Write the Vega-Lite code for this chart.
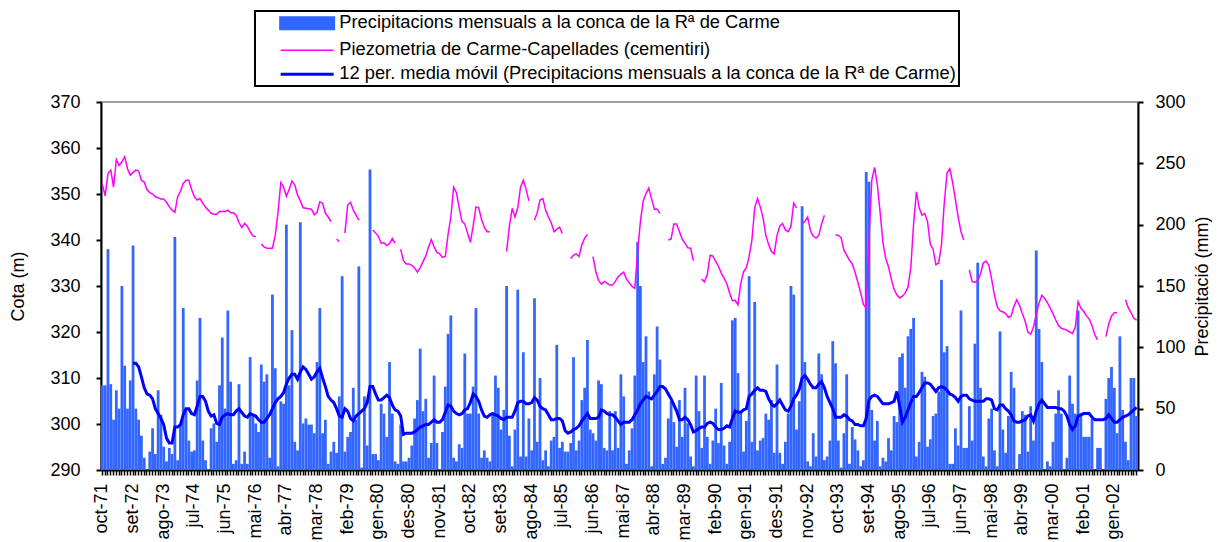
{
"$schema":"https://vega.github.io/schema/vega-lite/v6.json",
"width":1037,"height":368,
"autosize":{"type":"none"},
"padding":{"left":101,"top":102,"right":85,"bottom":72},
"background":"white",
"config":{
 "font":"Liberation Sans",
 "view":{"stroke":"#808080","strokeWidth":1.5},
 "axis":{"labelColor":"black","titleColor":"black","domainColor":"black","tickColor":"black","grid":false,"titleFontWeight":"normal","labelFont":"Liberation Sans","titleFont":"Liberation Sans","labelFontSize":18,"titleFontSize":18,"domainWidth":2}
},
"data":{"values":[
{"m":"oct-71","p":69,"a":null,"z":352.0},{"m":"nov-71","p":69,"a":null,"z":349.6},{"m":"des-71","p":180,"a":null,"z":354.5},
{"m":"gen-72","p":70,"a":null,"z":355.2},{"m":"feb-72","p":41,"a":null,"z":351.5},{"m":"mar-72","p":65,"a":null,"z":357.5},{"m":"abr-72","p":50,"a":null,"z":356.2},{"m":"mai-72","p":150,"a":null,"z":357.0},{"m":"jun-72","p":85,"a":null,"z":358.1},{"m":"jul-72","p":50,"a":null,"z":355.5},{"m":"ago-72","p":73,"a":null,"z":354.1},{"m":"set-72","p":183,"a":87,"z":354.7},{"m":"oct-72","p":50,"a":87,"z":355.2},{"m":"nov-72","p":41,"a":84,"z":355.0},{"m":"des-72","p":28,"a":76,"z":353.0},
{"m":"gen-73","p":10,"a":67,"z":352.6},{"m":"feb-73","p":0,"a":62,"z":350.9},{"m":"mar-73","p":15,"a":61,"z":350.3},{"m":"abr-73","p":34,"a":58,"z":350.0},{"m":"mai-73","p":13,"a":50,"z":349.4},{"m":"jun-73","p":65,"a":46,"z":349.2},{"m":"jul-73","p":45,"a":42,"z":348.9},{"m":"ago-73","p":19,"a":37,"z":348.9},{"m":"set-73","p":7,"a":26,"z":348.2},{"m":"oct-73","p":18,"a":22,"z":347.2},{"m":"nov-73","p":13,"a":22,"z":346.5},{"m":"des-73","p":190,"a":35,"z":346.0},
{"m":"gen-74","p":8,"a":35,"z":349.4},{"m":"feb-74","p":37,"a":37,"z":350.6},{"m":"mar-74","p":132,"a":45,"z":352.3},{"m":"abr-74","p":49,"a":50,"z":353.0},{"m":"mai-74","p":24,"a":50,"z":353.0},{"m":"jun-74","p":15,"a":46,"z":351.0},{"m":"jul-74","p":16,"a":45,"z":349.4},{"m":"ago-74","p":73,"a":52,"z":348.7},{"m":"set-74","p":124,"a":60,"z":349.0},{"m":"oct-74","p":24,"a":60,"z":348.0},{"m":"nov-74","p":8,"a":56,"z":347.1},{"m":"des-74","p":0,"a":48,"z":346.5},
{"m":"gen-75","p":34,"a":44,"z":345.8},{"m":"feb-75","p":38,"a":45,"z":345.6},{"m":"mar-75","p":23,"a":38,"z":345.6},{"m":"abr-75","p":69,"a":37,"z":346.2},{"m":"mai-75","p":108,"a":43,"z":346.2},{"m":"jun-75","p":50,"a":45,"z":346.2},{"m":"jul-75","p":130,"a":46,"z":346.5},{"m":"ago-75","p":72,"a":45,"z":345.9},{"m":"set-75","p":5,"a":45,"z":345.9},{"m":"oct-75","p":8,"a":48,"z":345.4},{"m":"nov-75","p":70,"a":50,"z":343.8},{"m":"des-75","p":5,"a":47,"z":342.7},
{"m":"gen-76","p":15,"a":44,"z":343.6},{"m":"feb-76","p":5,"a":43,"z":343.0},{"m":"mar-76","p":92,"a":46,"z":341.8},{"m":"abr-76","p":44,"a":45,"z":340.9},{"m":"mai-76","p":38,"a":44,"z":340.7},{"m":"jun-76","p":31,"a":41,"z":null},{"m":"jul-76","p":86,"a":39,"z":339.1},{"m":"ago-76","p":72,"a":39,"z":338.5},{"m":"set-76","p":78,"a":42,"z":338.2},{"m":"oct-76","p":10,"a":45,"z":338.2},{"m":"nov-76","p":143,"a":50,"z":338.2},{"m":"des-76","p":83,"a":55,"z":341.0},
{"m":"gen-77","p":3,"a":58,"z":346.0},{"m":"feb-77","p":56,"a":60,"z":352.5},{"m":"mar-77","p":54,"a":63,"z":351.5},{"m":"abr-77","p":200,"a":70,"z":349.5},{"m":"mai-77","p":69,"a":75,"z":351.0},{"m":"jun-77","p":114,"a":78,"z":352.8},{"m":"jul-77","p":23,"a":78,"z":352.0},{"m":"ago-77","p":16,"a":74,"z":349.8},{"m":"set-77","p":202,"a":80,"z":348.5},{"m":"oct-77","p":38,"a":84,"z":347.0},{"m":"nov-77","p":42,"a":82,"z":346.9},{"m":"des-77","p":37,"a":78,"z":346.8},
{"m":"gen-78","p":37,"a":74,"z":346.7},{"m":"feb-78","p":30,"a":76,"z":345.5},{"m":"mar-78","p":88,"a":80,"z":346.0},{"m":"abr-78","p":132,"a":83,"z":348.3},{"m":"mai-78","p":30,"a":75,"z":348.0},{"m":"jun-78","p":41,"a":68,"z":345.8},{"m":"jul-78","p":5,"a":60,"z":345.0},{"m":"ago-78","p":15,"a":57,"z":344.0},{"m":"set-78","p":23,"a":55,"z":null},{"m":"oct-78","p":14,"a":50,"z":340.2},{"m":"nov-78","p":60,"a":44,"z":339.6},{"m":"des-78","p":158,"a":43,"z":null},
{"m":"gen-79","p":15,"a":50,"z":341.5},{"m":"feb-79","p":27,"a":48,"z":347.6},{"m":"mar-79","p":31,"a":42,"z":348.2},{"m":"abr-79","p":67,"a":40,"z":346.5},{"m":"mai-79","p":41,"a":44,"z":345.4},{"m":"jun-79","p":166,"a":46,"z":344.3},{"m":"jul-79","p":2,"a":48,"z":null},{"m":"ago-79","p":60,"a":50,"z":null},{"m":"set-79","p":20,"a":55,"z":null},{"m":"oct-79","p":245,"a":68,"z":null},{"m":"nov-79","p":13,"a":68,"z":342.2},{"m":"des-79","p":13,"a":62,"z":341.5},
{"m":"gen-80","p":8,"a":57,"z":340.8},{"m":"feb-80","p":54,"a":57,"z":339.3},{"m":"mar-80","p":46,"a":59,"z":339.4},{"m":"abr-80","p":27,"a":61,"z":338.8},{"m":"mai-80","p":88,"a":59,"z":339.2},{"m":"jun-80","p":46,"a":53,"z":340.3},{"m":"jul-80","p":7,"a":49,"z":339.3},{"m":"ago-80","p":5,"a":48,"z":null},{"m":"set-80","p":37,"a":44,"z":338.0},{"m":"oct-80","p":7,"a":29,"z":335.5},{"m":"nov-80","p":7,"a":30,"z":334.8},{"m":"des-80","p":10,"a":30,"z":334.8},
{"m":"gen-81","p":20,"a":30,"z":334.5},{"m":"feb-81","p":42,"a":31,"z":333.9},{"m":"mar-81","p":57,"a":33,"z":333.0},{"m":"abr-81","p":99,"a":35,"z":334.0},{"m":"mai-81","p":48,"a":36,"z":335.3},{"m":"jun-81","p":58,"a":37,"z":336.5},{"m":"jul-81","p":10,"a":37,"z":338.5},{"m":"ago-81","p":22,"a":39,"z":340.1},{"m":"set-81","p":77,"a":41,"z":338.5},{"m":"oct-81","p":22,"a":39,"z":337.3},{"m":"nov-81","p":0,"a":39,"z":337.0},{"m":"des-81","p":31,"a":41,"z":336.2},
{"m":"gen-82","p":68,"a":47,"z":336.4},{"m":"feb-82","p":111,"a":53,"z":341.2},{"m":"mar-82","p":126,"a":52,"z":345.0},{"m":"abr-82","p":10,"a":48,"z":351.5},{"m":"mai-82","p":7,"a":46,"z":350.3},{"m":"jun-82","p":21,"a":45,"z":347.0},{"m":"jul-82","p":18,"a":46,"z":344.0},{"m":"ago-82","p":95,"a":49,"z":343.5},{"m":"set-82","p":46,"a":50,"z":341.5},{"m":"oct-82","p":46,"a":55,"z":339.5},{"m":"nov-82","p":68,"a":62,"z":343.0},{"m":"des-82","p":132,"a":60,"z":347.2},
{"m":"gen-83","p":46,"a":56,"z":347.0},{"m":"feb-83","p":10,"a":49,"z":344.5},{"m":"mar-83","p":16,"a":44,"z":342.8},{"m":"abr-83","p":10,"a":43,"z":341.8},{"m":"mai-83","p":7,"a":45,"z":341.8},{"m":"jun-83","p":47,"a":46,"z":null},{"m":"jul-83","p":77,"a":45,"z":null},{"m":"ago-83","p":67,"a":44,"z":null},{"m":"set-83","p":33,"a":42,"z":null},{"m":"oct-83","p":49,"a":41,"z":null},{"m":"nov-83","p":150,"a":43,"z":337.5},{"m":"des-83","p":28,"a":43,"z":343.0},
{"m":"gen-84","p":3,"a":43,"z":346.9},{"m":"feb-84","p":33,"a":48,"z":345.0},{"m":"mar-84","p":147,"a":55,"z":347.0},{"m":"abr-84","p":11,"a":56,"z":351.5},{"m":"mai-84","p":96,"a":56,"z":353.0},{"m":"jun-84","p":11,"a":54,"z":351.0},{"m":"jul-84","p":42,"a":54,"z":348.5},{"m":"ago-84","p":16,"a":55,"z":null},{"m":"set-84","p":140,"a":59,"z":344.3},{"m":"oct-84","p":23,"a":57,"z":346.0},{"m":"nov-84","p":75,"a":52,"z":348.7},{"m":"des-84","p":8,"a":50,"z":349.0},
{"m":"gen-85","p":16,"a":49,"z":346.5},{"m":"feb-85","p":3,"a":45,"z":345.0},{"m":"mar-85","p":24,"a":41,"z":343.8},{"m":"abr-85","p":27,"a":41,"z":341.8},{"m":"mai-85","p":102,"a":42,"z":342.3},{"m":"jun-85","p":18,"a":42,"z":342.8},{"m":"jul-85","p":23,"a":40,"z":341.4},{"m":"ago-85","p":15,"a":32,"z":null},{"m":"set-85","p":15,"a":30,"z":null},{"m":"oct-85","p":22,"a":31,"z":336.0},{"m":"nov-85","p":92,"a":33,"z":336.7},{"m":"des-85","p":16,"a":34,"z":337.0},
{"m":"gen-86","p":24,"a":36,"z":336.4},{"m":"feb-86","p":57,"a":40,"z":339.0},{"m":"mar-86","p":67,"a":43,"z":340.4},{"m":"abr-86","p":106,"a":46,"z":341.2},{"m":"mai-86","p":33,"a":42,"z":null},{"m":"jun-86","p":30,"a":42,"z":336.4},{"m":"jul-86","p":24,"a":42,"z":333.1},{"m":"ago-86","p":73,"a":43,"z":331.2},{"m":"set-86","p":70,"a":49,"z":330.4},{"m":"oct-86","p":18,"a":48,"z":331.0},{"m":"nov-86","p":16,"a":46,"z":330.6},{"m":"des-86","p":48,"a":45,"z":330.2},
{"m":"gen-87","p":16,"a":45,"z":330.2},{"m":"feb-87","p":48,"a":43,"z":331.0},{"m":"mar-87","p":18,"a":40,"z":332.0},{"m":"abr-87","p":78,"a":37,"z":332.6},{"m":"mai-87","p":60,"a":39,"z":333.0},{"m":"jun-87","p":5,"a":39,"z":331.5},{"m":"jul-87","p":16,"a":39,"z":330.7},{"m":"ago-87","p":34,"a":41,"z":329.9},{"m":"set-87","p":77,"a":45,"z":329.5},{"m":"oct-87","p":186,"a":49,"z":337.5},{"m":"nov-87","p":150,"a":54,"z":344.0},{"m":"des-87","p":88,"a":57,"z":348.5},
{"m":"gen-88","p":109,"a":60,"z":350.1},{"m":"feb-88","p":64,"a":59,"z":351.3},{"m":"mar-88","p":3,"a":58,"z":349.0},{"m":"abr-88","p":78,"a":61,"z":346.7},{"m":"mai-88","p":117,"a":64,"z":346.7},{"m":"jun-88","p":90,"a":68,"z":345.8},{"m":"jul-88","p":5,"a":68,"z":null},{"m":"ago-88","p":10,"a":66,"z":null},{"m":"set-88","p":42,"a":62,"z":340.0},{"m":"oct-88","p":56,"a":58,"z":340.2},{"m":"nov-88","p":39,"a":53,"z":343.5},{"m":"des-88","p":19,"a":48,"z":343.5},
{"m":"gen-89","p":57,"a":41,"z":341.8},{"m":"feb-89","p":27,"a":41,"z":340.2},{"m":"mar-89","p":67,"a":43,"z":339.3},{"m":"abr-89","p":38,"a":41,"z":338.3},{"m":"mai-89","p":11,"a":37,"z":338.2},{"m":"jun-89","p":3,"a":31,"z":335.5},{"m":"jul-89","p":77,"a":32,"z":null},{"m":"ago-89","p":48,"a":34,"z":null},{"m":"set-89","p":18,"a":35,"z":331.5},{"m":"oct-89","p":77,"a":35,"z":330.9},{"m":"nov-89","p":27,"a":38,"z":332.5},{"m":"des-89","p":5,"a":39,"z":336.7},
{"m":"gen-90","p":24,"a":38,"z":336.5},{"m":"feb-90","p":50,"a":35,"z":335.4},{"m":"mar-90","p":22,"a":33,"z":334.3},{"m":"abr-90","p":71,"a":33,"z":332.8},{"m":"mai-90","p":20,"a":34,"z":331.7},{"m":"jun-90","p":5,"a":36,"z":330.5},{"m":"jul-90","p":23,"a":35,"z":328.5},{"m":"ago-90","p":122,"a":42,"z":326.8},{"m":"set-90","p":124,"a":48,"z":326.9},{"m":"oct-90","p":79,"a":47,"z":325.9},{"m":"nov-90","p":48,"a":47,"z":330.5},{"m":"des-90","p":15,"a":49,"z":333.1},
{"m":"gen-91","p":40,"a":50,"z":334.0},{"m":"feb-91","p":158,"a":60,"z":336.4},{"m":"mar-91","p":23,"a":62,"z":340.0},{"m":"abr-91","p":137,"a":65,"z":347.0},{"m":"mai-91","p":16,"a":67,"z":349.0},{"m":"jun-91","p":24,"a":65,"z":347.2},{"m":"jul-91","p":26,"a":65,"z":344.8},{"m":"ago-91","p":46,"a":64,"z":341.0},{"m":"set-91","p":41,"a":58,"z":339.0},{"m":"oct-91","p":57,"a":54,"z":337.5},{"m":"nov-91","p":14,"a":52,"z":337.0},{"m":"des-91","p":86,"a":54,"z":341.0},
{"m":"gen-92","p":14,"a":57,"z":343.0},{"m":"feb-92","p":5,"a":53,"z":343.6},{"m":"mar-92","p":23,"a":49,"z":342.2},{"m":"abr-92","p":46,"a":48,"z":341.8},{"m":"mai-92","p":150,"a":52,"z":343.0},{"m":"jun-92","p":143,"a":58,"z":348.0},{"m":"jul-92","p":33,"a":61,"z":347.0},{"m":"ago-92","p":56,"a":66,"z":null},{"m":"set-92","p":215,"a":75,"z":343.5},{"m":"oct-92","p":88,"a":77,"z":344.0},{"m":"nov-92","p":7,"a":74,"z":345.0},{"m":"des-92","p":3,"a":70,"z":342.0},
{"m":"gen-93","p":30,"a":67,"z":340.8},{"m":"feb-93","p":11,"a":67,"z":340.4},{"m":"mar-93","p":95,"a":70,"z":341.0},{"m":"abr-93","p":78,"a":72,"z":343.5},{"m":"mai-93","p":8,"a":67,"z":345.4},{"m":"jun-93","p":11,"a":60,"z":null},{"m":"jul-93","p":24,"a":55,"z":null},{"m":"ago-93","p":105,"a":50,"z":null},{"m":"set-93","p":87,"a":43,"z":341.1},{"m":"oct-93","p":24,"a":43,"z":341.0},{"m":"nov-93","p":2,"a":43,"z":340.5},{"m":"des-93","p":30,"a":45,"z":337.8},
{"m":"gen-94","p":78,"a":44,"z":336.7},{"m":"feb-94","p":5,"a":41,"z":335.6},{"m":"mar-94","p":35,"a":40,"z":334.8},{"m":"abr-94","p":25,"a":37,"z":333.0},{"m":"mai-94","p":16,"a":37,"z":330.8},{"m":"jun-94","p":3,"a":36,"z":328.5},{"m":"jul-94","p":8,"a":36,"z":326.0},{"m":"ago-94","p":243,"a":42,"z":325.2},{"m":"set-94","p":235,"a":57,"z":340.0},{"m":"oct-94","p":49,"a":60,"z":353.0},{"m":"nov-94","p":24,"a":61,"z":355.8},{"m":"des-94","p":40,"a":60,"z":352.0},
{"m":"gen-95","p":3,"a":57,"z":346.0},{"m":"feb-95","p":10,"a":54,"z":339.5},{"m":"mar-95","p":7,"a":54,"z":336.0},{"m":"abr-95","p":26,"a":54,"z":334.2},{"m":"mai-95","p":16,"a":55,"z":331.5},{"m":"jun-95","p":44,"a":56,"z":329.3},{"m":"jul-95","p":39,"a":64,"z":328.1},{"m":"ago-95","p":92,"a":52,"z":327.4},{"m":"set-95","p":95,"a":39,"z":327.8},{"m":"oct-95","p":67,"a":43,"z":328.5},{"m":"nov-95","p":109,"a":49,"z":329.8},{"m":"des-95","p":115,"a":55,"z":334.0},
{"m":"gen-96","p":124,"a":60,"z":343.5},{"m":"feb-96","p":11,"a":60,"z":350.5},{"m":"mar-96","p":23,"a":63,"z":347.0},{"m":"abr-96","p":80,"a":67,"z":345.4},{"m":"mai-96","p":76,"a":71,"z":345.8},{"m":"jun-96","p":19,"a":71,"z":344.0},{"m":"jul-96","p":25,"a":70,"z":339.0},{"m":"ago-96","p":44,"a":67,"z":338.0},{"m":"set-96","p":46,"a":64,"z":334.6},{"m":"oct-96","p":64,"a":67,"z":335.0},{"m":"nov-96","p":155,"a":68,"z":339.0},{"m":"des-96","p":96,"a":67,"z":348.0},
{"m":"gen-97","p":101,"a":65,"z":354.6},{"m":"feb-97","p":5,"a":62,"z":355.5},{"m":"mar-97","p":5,"a":61,"z":352.5},{"m":"abr-97","p":34,"a":59,"z":348.8},{"m":"mai-97","p":20,"a":56,"z":345.0},{"m":"jun-97","p":130,"a":60,"z":341.8},{"m":"jul-97","p":18,"a":61,"z":340.0},{"m":"ago-97","p":18,"a":61,"z":null},{"m":"set-97","p":52,"a":58,"z":333.5},{"m":"oct-97","p":24,"a":57,"z":331.0},{"m":"nov-97","p":103,"a":56,"z":330.8},{"m":"des-97","p":169,"a":56,"z":331.2},
{"m":"gen-98","p":67,"a":56,"z":332.6},{"m":"feb-98","p":11,"a":56,"z":335.0},{"m":"mar-98","p":3,"a":58,"z":335.4},{"m":"abr-98","p":42,"a":58,"z":334.5},{"m":"mai-98","p":50,"a":57,"z":331.5},{"m":"jun-98","p":16,"a":50,"z":328.0},{"m":"jul-98","p":3,"a":49,"z":325.5},{"m":"ago-98","p":113,"a":53,"z":324.6},{"m":"set-98","p":33,"a":53,"z":324.4},{"m":"oct-98","p":14,"a":50,"z":324.0},{"m":"nov-98","p":44,"a":48,"z":323.2},{"m":"des-98","p":80,"a":45,"z":323.5},
{"m":"gen-99","p":67,"a":40,"z":325.6},{"m":"feb-99","p":0,"a":39,"z":327.0},{"m":"mar-99","p":13,"a":39,"z":325.8},{"m":"abr-99","p":48,"a":40,"z":324.0},{"m":"mai-99","p":45,"a":41,"z":322.4},{"m":"jun-99","p":15,"a":44,"z":320.0},{"m":"jul-99","p":52,"a":45,"z":319.5},{"m":"ago-99","p":24,"a":40,"z":321.0},{"m":"set-99","p":179,"a":48,"z":323.8},{"m":"oct-99","p":115,"a":54,"z":326.3},{"m":"nov-99","p":88,"a":57,"z":328.0},{"m":"des-99","p":0,"a":54,"z":327.3},
{"m":"gen-00","p":7,"a":51,"z":326.4},{"m":"feb-00","p":3,"a":51,"z":325.2},{"m":"mar-00","p":23,"a":51,"z":324.0},{"m":"abr-00","p":46,"a":51,"z":322.6},{"m":"mai-00","p":65,"a":50,"z":321.4},{"m":"jun-00","p":46,"a":50,"z":320.8},{"m":"jul-00","p":0,"a":48,"z":320.6},{"m":"ago-00","p":10,"a":44,"z":320.4},{"m":"set-00","p":77,"a":37,"z":320.0},{"m":"oct-00","p":54,"a":33,"z":319.7},{"m":"nov-00","p":46,"a":36,"z":321.0},{"m":"des-00","p":130,"a":44,"z":326.6},
{"m":"gen-01","p":46,"a":45,"z":325.2},{"m":"feb-01","p":27,"a":46,"z":324.5},{"m":"mar-01","p":27,"a":46,"z":323.5},{"m":"abr-01","p":27,"a":46,"z":322.8},{"m":"mai-01","p":42,"a":43,"z":321.4},{"m":"jun-01","p":0,"a":41,"z":319.4},{"m":"jul-01","p":18,"a":41,"z":318.3},{"m":"ago-01","p":18,"a":41,"z":null},{"m":"set-01","p":0,"a":41,"z":null},{"m":"oct-01","p":58,"a":42,"z":319.0},{"m":"nov-01","p":75,"a":45,"z":321.8},{"m":"des-01","p":84,"a":42,"z":323.5},
{"m":"gen-02","p":67,"a":39,"z":324.2},{"m":"feb-02","p":30,"a":39,"z":324.2},{"m":"mar-02","p":109,"a":41,"z":null},{"m":"abr-02","p":49,"a":43,"z":null},{"m":"mai-02","p":23,"a":44,"z":327.0},{"m":"jun-02","p":8,"a":45,"z":325.3},{"m":"jul-02","p":75,"a":47,"z":324.2},{"m":"ago-02","p":75,"a":49,"z":323.0},{"m":"set-02","p":44,"a":51,"z":322.6}
]},
"encoding":{
 "x":{"field":"m","type":"ordinal","sort":null,"scale":{"paddingInner":0,"paddingOuter":0},
  "axis":{"title":null,"labelAngle":-90,"labelFontSize":18,"labelPadding":8,"tickSize":5,"tickWidth":1.5,"labelOverlap":false,"labelBound":false,
   "labelExpr":"(datum.value === 'oct-71' || datum.value === 'set-72' || datum.value === 'ago-73' || datum.value === 'jul-74' || datum.value === 'jun-75' || datum.value === 'mai-76' || datum.value === 'abr-77' || datum.value === 'mar-78' || datum.value === 'feb-79' || datum.value === 'gen-80' || datum.value === 'des-80' || datum.value === 'nov-81' || datum.value === 'oct-82' || datum.value === 'set-83' || datum.value === 'ago-84' || datum.value === 'jul-85' || datum.value === 'jun-86' || datum.value === 'mai-87' || datum.value === 'abr-88' || datum.value === 'mar-89' || datum.value === 'feb-90' || datum.value === 'gen-91' || datum.value === 'des-91' || datum.value === 'nov-92' || datum.value === 'oct-93' || datum.value === 'set-94' || datum.value === 'ago-95' || datum.value === 'jul-96' || datum.value === 'jun-97' || datum.value === 'mai-98' || datum.value === 'abr-99' || datum.value === 'mar-00' || datum.value === 'feb-01' || datum.value === 'gen-02') ? datum.value : ''"}}
},
"layer":[
 {"mark":{"type":"bar"},
  "encoding":{
   "y":{"field":"p","type":"quantitative","scale":{"domain":[0,300],"nice":false,"zero":true},
    "axis":{"orient":"right","title":"Precipitació (mm)","titleAngle":-90,"titleBaseline":"top","values":[0,50,100,150,200,250,300],"tickSize":5,"tickWidth":2,"labelPadding":12,"titlePadding":8}},
   "color":{"datum":"Precipitacions mensuals a la conca de la Rª de Carme","type":"nominal",
    "scale":{"domain":["Precipitacions mensuals a la conca de la Rª de Carme","Piezometria de Carme-Capellades (cementiri)","12 per. media móvil (Precipitacions mensuals a la conca de la Rª de Carme)"],"range":["#3366FF","#FF00FF","#0000FF"]},
    "legend":{"orient":"none","legendX":154,"legendY":-91,"title":null,"direction":"vertical","padding":3,"strokeColor":"black","fillColor":"white",
     "symbolSize":400,"symbolOffset":40,"labelOffset":23,"rowPadding":5,"labelFontSize":18.3,"labelFont":"Liberation Sans","labelColor":"black","labelLimit":0,
     "labelExpr":"datum.label + '     '",
     "encode":{
      "legend":{"update":{"strokeWidth":{"value":2}}},
      "symbols":{"update":{
       "shape":{"signal":"datum.value === 'Precipitacions mensuals a la conca de la Rª de Carme' ? 'M-2.65,-0.55H2.65V0.55H-2.65Z' : 'M-2.65,0H2.65'"},
       "fill":{"signal":"datum.value === 'Precipitacions mensuals a la conca de la Rª de Carme' ? '#3366FF' : 'transparent'"},
       "stroke":{"signal":"datum.value === 'Precipitacions mensuals a la conca de la Rª de Carme' ? 'transparent' : (datum.value === 'Piezometria de Carme-Capellades (cementiri)' ? '#FF00FF' : '#0000FF')"},
       "strokeWidth":{"signal":"datum.value === 'Piezometria de Carme-Capellades (cementiri)' ? 1.5 : 3"}}}}}}
  }},
 {"mark":{"type":"line","strokeWidth":1.5},
  "encoding":{
   "y":{"field":"z","type":"quantitative","scale":{"domain":[290,370],"nice":false,"zero":false},
    "axis":{"orient":"left","title":"Cota (m)","values":[290,300,310,320,330,340,350,360,370],"tickSize":5,"tickWidth":2,"labelPadding":16,"titlePadding":22}},
   "color":{"datum":"Piezometria de Carme-Capellades (cementiri)","type":"nominal"}
  }},
 {"mark":{"type":"line","strokeWidth":3},
  "encoding":{
   "y":{"field":"a","type":"quantitative","scale":{"domain":[0,300],"nice":false,"zero":true},"axis":null},
   "color":{"datum":"12 per. media móvil (Precipitacions mensuals a la conca de la Rª de Carme)","type":"nominal"}
  }}
],
"resolve":{"scale":{"y":"independent"}}
}
